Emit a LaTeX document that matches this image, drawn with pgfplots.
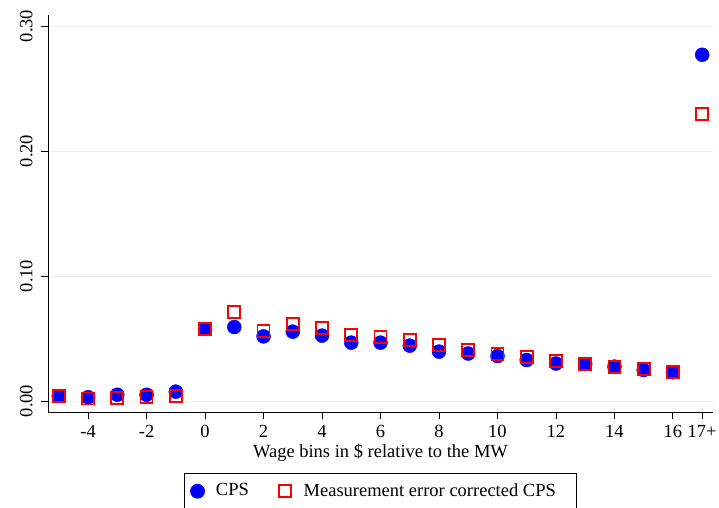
\documentclass[border=0pt]{standalone}
\usepackage{fontspec}
\setmainfont{Liberation Serif}
\usepackage{pgfplots}
\pgfplotsset{compat=1.18}
\definecolor{gridc}{RGB}{232,240,242}
\pgfplotstableread{
x y
-5 0.0040
-4 0.0030
-3 0.0050
-2 0.0050
-1 0.0075
0 0.0576
1 0.0592
2 0.0517
3 0.0555
4 0.0523
5 0.0467
6 0.0467
7 0.0443
8 0.0395
9 0.0380
10 0.0360
11 0.0328
12 0.0300
13 0.0296
14 0.0275
15 0.0248
16 0.0230
17 0.2770
}\cps
\pgfplotstableread{
x y
-5 0.0040
-4 0.0020
-3 0.0027
-2 0.0030
-1 0.0043
0 0.0573
1 0.0712
2 0.0563
3 0.0619
4 0.0581
5 0.0528
6 0.0515
7 0.0488
8 0.0445
9 0.0410
10 0.0376
11 0.0350
12 0.0320
13 0.0296
14 0.0275
15 0.0253
16 0.0230
17 0.2296
}\corr
\begin{document}
\fontsize{18.5}{22}\selectfont
\begin{tikzpicture}
\begin{axis}[
  scale only axis, width=665pt, height=397pt,
  xmin=-5.37, xmax=17.37, ymin=-0.0088, ymax=0.3088,
  axis x line*=bottom, axis y line*=left,
  axis line style={black, line width=0.9pt, -},
  tick style={black, line width=0.9pt},
  tick align=outside, major tick length=7pt,
  xtick={-4,-2,0,2,4,6,8,10,12,14,16,17},
  xticklabels={-4,-2,0,2,4,6,8,10,12,14,16,17+},
  ytick={0,0.1,0.2,0.3},
  yticklabels={0.00,0.10,0.20,0.30},
  yticklabel style={rotate=90, anchor=south},
  yticklabel shift=2pt,
  ymajorgrids, major grid style={color=gridc, line width=1pt},
  xlabel={Wage bins in \$ relative to the MW},
  xlabel style={yshift=6pt},
  legend columns=2,
  legend image code/.code={\path (-7pt,0pt) (16pt,0pt); \draw[#1] plot coordinates {(0pt,0pt)};},
  legend style={at={(0.5,-0.1537)}, anchor=north, draw=black, line width=0.8pt,
    inner xsep=6pt, inner ysep=8pt,
    /tikz/every even column/.append style={column sep=26pt}},
  clip=false,
]
\addplot[only marks, mark=*, mark size=7pt, color=blue, mark options={solid, draw=blue, fill=blue}] table[x=x,y=y]{\cps};
\addlegendentry{CPS}
\addplot[only marks, mark=square, mark size=6pt, color=red, line width=1.8pt, mark options={solid, draw=red, fill=none}] table[x=x,y=y]{\corr};
\addlegendentry{Measurement error corrected CPS\hspace*{13pt}}
\coordinate (O) at (rel axis cs:0,0);
\end{axis}
\pgfresetboundingbox
\path (O) ++(-48pt,-95pt) rectangle ++(719pt,507pt);
\end{tikzpicture}
\end{document}
